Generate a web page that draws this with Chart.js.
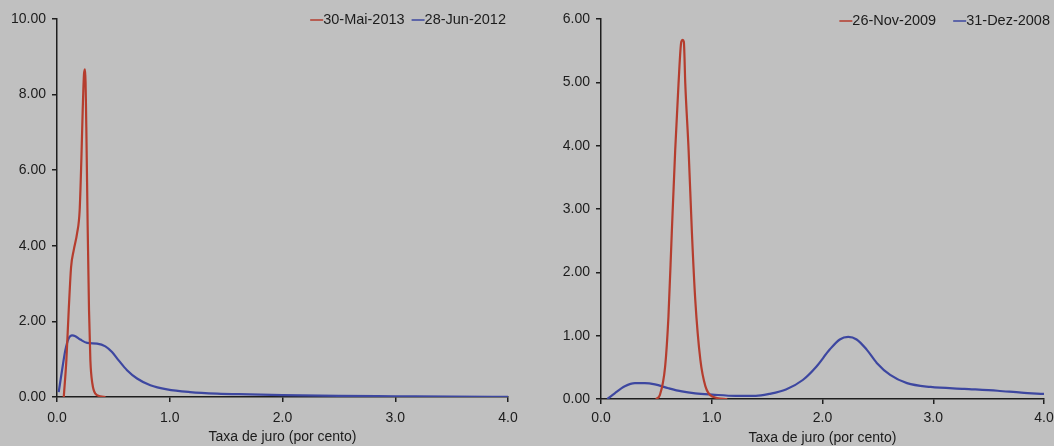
<!DOCTYPE html>
<html>
<head>
<meta charset="utf-8">
<script src="https://cdn.jsdelivr.net/npm/chart.js@4"></script>
<style>
  body { margin: 0; background: #c0c0c0; overflow: hidden; }
  .panel { position: absolute; top: 0; height: 446px; overflow: hidden; }
  #leftPanel { left: 0; width: 527px; }
  #rightPanel { left: 527px; width: 527px; }
</style>
</head>
<body>
<div class="panel" id="leftPanel"><canvas id="leftChart" width="527" height="446"></canvas></div>
<div class="panel" id="rightPanel"><canvas id="rightChart" width="540" height="446"></canvas></div>
<script>
// Left panel: 30-Mai-2013 vs 28-Jun-2012
const mai2013Rate    = [0.06, 0.083, 0.104, 0.125, 0.148, 0.178, 0.201, 0.216, 0.228, 0.24, 0.249, 0.26, 0.272, 0.284, 0.296, 0.314, 0.34, 0.385, 0.43];
const mai2013Density = [0, 0.97, 2.3, 3.44, 3.88, 4.33, 4.94, 6.27, 7.59, 8.56, 8.67, 7.15, 4.5, 2.3, 0.97, 0.35, 0.09, 0.02, 0];

const jun2012Rate    = [0.015, 0.045, 0.074, 0.104, 0.134, 0.163, 0.207, 0.267, 0.355, 0.429, 0.488, 0.547, 0.621, 0.71, 0.828, 0.976, 1.18, 1.42, 1.71, 2.0, 2.5, 3.0, 3.5, 4.0];
const jun2012Density = [0.13, 0.71, 1.24, 1.55, 1.63, 1.61, 1.52, 1.43, 1.41, 1.34, 1.19, 0.97, 0.71, 0.49, 0.31, 0.2, 0.13, 0.09, 0.07, 0.05, 0.03, 0.02, 0.01, 0.005];

// Right panel: 26-Nov-2009 vs 31-Dez-2008
const nov2009Rate    = [0.496, 0.533, 0.579, 0.609, 0.639, 0.67, 0.70, 0.725, 0.737, 0.748, 0.761, 0.791, 0.821, 0.851, 0.897, 0.943, 1.004, 1.14];
const nov2009Density = [0, 0.07, 0.51, 1.3, 2.62, 3.93, 4.98, 5.64, 5.67, 5.64, 4.98, 3.93, 2.62, 1.57, 0.62, 0.2, 0.04, 0];

const dez2008Rate    = [0.057, 0.124, 0.215, 0.306, 0.396, 0.487, 0.609, 0.73, 0.851, 1.004, 1.216, 1.398, 1.519, 1.67, 1.822, 1.944, 2.065, 2.156, 2.232, 2.308, 2.399, 2.49, 2.611, 2.763, 2.976, 3.279, 3.582, 3.795, 4.0];
const dez2008Density = [0, 0.09, 0.2, 0.25, 0.25, 0.23, 0.17, 0.12, 0.09, 0.07, 0.05, 0.05, 0.08, 0.15, 0.3, 0.51, 0.78, 0.94, 0.98, 0.94, 0.78, 0.57, 0.38, 0.25, 0.19, 0.16, 0.13, 0.10, 0.08];

const RED = '#b53d2e';
const BLUE = '#3d47a0';
const AXIS = '#1e1e1e';
const TEXT = '#1c1c1c';
const FONT = 'Arial, "Liberation Sans", sans-serif';

function toPoints(xs, ys) {
    return xs.map((x, i) => ({ x: x, y: ys[i] }));
}

function series(label, xs, ys, color) {
    return {
        label: label,
        data: toPoints(xs, ys),
        borderColor: color,
        backgroundColor: color,
        borderWidth: 2.2,
        pointRadius: 0,
        tension: 0.4,
        cubicInterpolationMode: 'monotone'
    };
}

// small legend drawn at the top right, line sample directly before the text
const lineLegend = {
    id: 'lineLegend',
    afterDraw(chart, args, opts) {
        const ctx = chart.ctx;
        ctx.save();
        ctx.font = '14.5px ' + FONT;
        ctx.textBaseline = 'middle';
        ctx.textAlign = 'left';
        let end = opts.right;
        const sets = chart.data.datasets.slice().reverse();
        sets.forEach(ds => {
            const w = ctx.measureText(ds.label).width;
            const tx = end - w;
            ctx.fillStyle = TEXT;
            ctx.fillText(ds.label, tx, opts.y);
            ctx.strokeStyle = ds.borderColor;
            ctx.lineWidth = 1.5;
            ctx.beginPath();
            ctx.moveTo(tx - 13, opts.y);
            ctx.lineTo(tx, opts.y);
            ctx.stroke();
            end = tx - 13 - opts.gap;
        });
        ctx.restore();
    }
};

function makeChart(id, datasets, cfg) {
    const ctx = document.getElementById(id).getContext('2d');
    return new Chart(ctx, {
        type: 'line',
        data: { datasets: datasets },
        plugins: [lineLegend],
        options: {
            responsive: false,
            animation: false,
            layout: { padding: { left: 0, right: cfg.padRight, top: 19, bottom: 0 } },
            plugins: {
                legend: { display: false },
                tooltip: { enabled: false },
                lineLegend: { right: cfg.legendRight, y: cfg.legendY, gap: cfg.legendGap }
            },
            scales: {
                x: {
                    type: 'linear',
                    min: 0,
                    max: 4,
                    afterFit: scale => { scale.height = cfg.xHeight; },
                    ticks: {
                        stepSize: 1,
                        padding: cfg.xTickPad,
                        color: TEXT,
                        font: { family: FONT, size: 14 },
                        callback: v => v.toFixed(1)
                    },
                    grid: { drawOnChartArea: false, drawTicks: true, tickLength: 5, color: AXIS, lineWidth: 1.5 },
                    border: { display: true, color: AXIS, width: 1.5 },
                    title: {
                        display: true,
                        text: 'Taxa de juro (por cento)',
                        color: TEXT,
                        font: { family: FONT, size: 14, lineHeight: 1 },
                        padding: { top: 0, bottom: cfg.titlePad }
                    }
                },
                y: {
                    min: 0,
                    max: cfg.yMax,
                    afterFit: scale => { scale.width = cfg.yWidth; },
                    ticks: {
                        stepSize: cfg.yStep,
                        padding: 6,
                        color: TEXT,
                        font: { family: FONT, size: 14 },
                        callback: v => v.toFixed(2)
                    },
                    grid: { drawOnChartArea: false, drawTicks: true, tickLength: 5, color: AXIS, lineWidth: 1.5 },
                    border: { display: true, color: AXIS, width: 1.5 }
                }
            }
        }
    });
}

makeChart('leftChart', [
    series('30-Mai-2013', mai2013Rate, mai2013Density, RED),
    series('28-Jun-2012', jun2012Rate, jun2012Density, BLUE)
], { yMax: 10, yStep: 2, yWidth: 57, xHeight: 49, padRight: 19, xTickPad: 8, titlePad: 2, legendRight: 506, legendY: 20, legendGap: 7 });

makeChart('rightChart', [
    series('26-Nov-2009', nov2009Rate, nov2009Density, RED),
    series('31-Dez-2008', dez2008Rate, dez2008Density, BLUE)
], { yMax: 6, yStep: 1, yWidth: 74, xHeight: 47, padRight: 23, xTickPad: 6, titlePad: 1, legendRight: 523, legendY: 21, legendGap: 17 });
</script>
</body>
</html>
